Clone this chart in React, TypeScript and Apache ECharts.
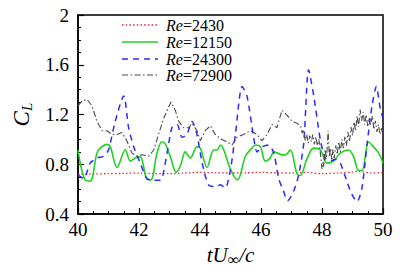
import React, { useEffect, useRef } from "react";
import * as echarts from "echarts";

// Re = 2430 (red dotted)
const tRed = [40, 40.5, 41, 41.5, 42, 42.5, 43, 43.5, 44, 44.5, 45, 45.5, 46, 46.5, 47, 47.5, 48, 48.5, 49, 49.2, 49.6, 50];
const vRed = [0.72, 0.722, 0.725, 0.727, 0.73, 0.726, 0.725, 0.73, 0.735, 0.732, 0.73, 0.732, 0.735, 0.732, 0.73, 0.735, 0.725, 0.73, 0.738, 0.745, 0.73, 0.735];

// Re = 12150 (green solid)
const tGreen = [40, 40.24, 40.4, 40.62, 40.73, 40.95, 41.06, 41.28, 41.55, 41.72, 41.88, 42.04, 42.26, 42.39, 42.59, 42.75, 42.86, 43.03, 43.22, 43.36, 43.52, 43.68, 43.9, 44.01, 44.23, 44.45, 44.56, 44.67, 44.78, 45.0, 45.23, 45.49, 45.7, 45.82, 45.98, 46.14, 46.3, 46.42, 46.63, 46.8, 46.96, 47.18, 47.29, 47.5, 47.73, 47.95, 48.16, 48.38, 48.6, 48.87, 49.04, 49.2, 49.31, 49.53, 49.69, 49.86, 50];
const vGreen = [0.915, 0.673, 0.665, 0.89, 0.93, 0.96, 0.94, 0.775, 0.915, 0.826, 0.85, 0.86, 0.68, 0.675, 0.89, 0.98, 0.965, 0.86, 0.737, 0.79, 0.9, 0.85, 0.94, 0.93, 0.775, 0.915, 0.915, 0.955, 0.915, 0.76, 0.675, 0.865, 0.93, 0.955, 0.94, 0.826, 0.85, 0.9, 0.88, 0.875, 0.915, 0.724, 0.71, 0.84, 0.93, 0.915, 0.81, 0.826, 0.89, 0.915, 0.86, 0.75, 0.75, 0.98, 0.94, 0.89, 0.81];

// Re = 24300 (blue dashed)
const tBlue = [40, 40.19, 40.4, 40.62, 40.84, 41.0, 41.22, 41.5, 41.66, 41.83, 42.04, 42.26, 42.48, 42.7, 42.92, 43.08, 43.25, 43.41, 43.57, 43.74, 43.9, 44.07, 44.28, 44.5, 44.67, 44.83, 45.0, 45.16, 45.38, 45.54, 45.76, 45.87, 46.03, 46.25, 46.42, 46.58, 46.74, 46.87, 47.07, 47.23, 47.4, 47.56, 47.73, 47.95, 48.11, 48.27, 48.44, 48.6, 48.82, 48.98, 49.15, 49.31, 49.48, 49.64, 49.78, 49.91, 50];
const vBlue = [0.716, 0.686, 0.81, 0.85, 0.865, 0.915, 1.145, 1.35, 1.094, 0.94, 0.81, 0.686, 0.673, 0.673, 0.89, 1.094, 1.12, 1.017, 1.04, 1.145, 1.04, 0.81, 0.635, 0.62, 0.635, 0.61, 0.76, 1.04, 1.425, 1.35, 1.017, 0.9, 0.94, 0.955, 0.89, 0.686, 0.584, 0.507, 0.584, 0.71, 0.966, 1.56, 1.35, 0.99, 0.85, 0.826, 0.84, 0.81, 0.66, 0.558, 0.5, 0.61, 0.966, 1.27, 1.425, 1.247, 1.17];

// Re = 72900 (grey dash-dot)
const tGrey = [40, 40.13, 40.3, 40.46, 40.62, 40.79, 40.95, 41.11, 41.28, 41.44, 41.6, 41.77, 41.93, 42.1, 42.32, 42.48, 42.64, 42.81, 42.97, 43.05, 43.19, 43.3, 43.46, 43.63, 43.74, 43.9, 44.01, 44.17, 44.34, 44.5, 44.67, 44.89, 45.05, 45.21, 45.43, 45.65, 45.87, 46.03, 46.2, 46.36, 46.52, 46.69, 46.85, 47.02, 47.18, 47.3, 47.35, 47.4, 47.45, 47.5, 47.55, 47.6, 47.65, 47.7, 47.75, 47.8, 47.85, 47.9, 47.95, 48.0, 48.03, 48.06, 48.1, 48.15, 48.2, 48.24, 48.28, 48.32, 48.36, 48.4, 48.45, 48.5, 48.55, 48.6, 48.65, 48.7, 48.75, 48.8, 48.85, 48.9, 48.95, 49.0, 49.05, 49.1, 49.15, 49.2, 49.25, 49.3, 49.35, 49.4, 49.45, 49.5, 49.55, 49.6, 49.65, 49.7, 49.75, 49.8, 49.85, 49.9, 49.95, 50];
const vGrey = [1.27, 1.31, 1.32, 1.27, 1.145, 1.07, 1.07, 1.04, 1.04, 1.055, 0.99, 0.89, 0.865, 0.877, 0.865, 0.915, 1.04, 1.17, 1.26, 1.3, 1.235, 1.145, 1.094, 1.094, 1.13, 1.07, 0.99, 1.07, 1.11, 1.04, 1.005, 0.98, 0.955, 1.017, 1.04, 1.07, 1.04, 0.99, 1.04, 1.12, 1.094, 1.235, 1.196, 1.145, 1.13, 1.11, 1.05, 1.08, 0.99, 1.04, 0.97, 1.03, 0.98, 1.04, 0.96, 1.02, 0.95, 1.0, 0.88, 0.76, 0.82, 0.78, 0.92, 0.85, 1.07, 0.86, 0.93, 0.83, 0.92, 0.85, 0.95, 0.88, 0.98, 0.9, 1.0, 0.93, 1.02, 0.95, 1.06, 0.98, 1.1, 1.03, 1.14, 1.07, 1.19, 1.1, 1.24, 1.15, 1.22, 1.12, 1.2, 1.1, 1.17, 1.12, 1.19, 1.08, 1.15, 1.06, 1.12, 1.04, 1.09, 1.03];

const legendNames = ["2430", "12150", "24300", "72900"];
const xTicks = { min: 40, max: 50, interval: 2 };
const yTicks = { min: 0.4, max: 2, interval: 0.4 };

const pairs = (t: number[], v: number[]) => t.map((x, i) => [x, v[i]]);

const FONT = "Liberation Serif";

export default function App() {
  const ref = useRef<HTMLDivElement>(null);
  useEffect(() => {
    if (!ref.current) return;
    const chart = echarts.init(ref.current, null, { renderer: "svg" });
    const colors = ["#e8262a", "#1ed21e", "#2b2bff", "#4a4a4a"];
    const dashes: any[] = [[1.5, 2.2], "solid", [6, 5], [6, 2.5, 1.5, 2.5]];
    const widths = [1.3, 1.6, 1.5, 1.1];
    const legendY = [25, 42, 59, 75];
    const graphic: any[] = [];
    legendNames.forEach((n, i) => {
      graphic.push({
        type: "line",
        shape: { x1: 122, y1: legendY[i], x2: 158, y2: legendY[i] },
        style: { stroke: colors[i], lineWidth: widths[i], lineDash: dashes[i] === "solid" ? null : dashes[i] },
        silent: true,
      });
      graphic.push({
        type: "text",
        x: 166,
        y: legendY[i],
        style: {
          text: "{i|Re}=" + n,
          rich: { i: { fontStyle: "italic", fontFamily: FONT, fontSize: 16, fill: "#000" } },
          fontFamily: FONT,
          fontSize: 16,
          fill: "#000",
          verticalAlign: "middle",
        },
        silent: true,
      });
    });
    const axisLabel = { color: "#000", fontFamily: FONT, fontSize: 19 };
    chart.setOption({
      animation: false,
      textStyle: { fontFamily: FONT },
      grid: { left: 78, right: 24, top: 15, bottom: 48, show: true, borderColor: "#000", borderWidth: 1.5 },
      xAxis: {
        type: "value",
        min: xTicks.min,
        max: xTicks.max,
        interval: xTicks.interval,
        axisLine: { lineStyle: { color: "#000", width: 1.5 } },
        axisTick: { inside: true, length: 6, lineStyle: { color: "#000", width: 1.2 } },
        minorTick: { show: true, splitNumber: 4, length: 3, lineStyle: { color: "#000", width: 1 } },
        splitLine: { show: false },
        axisLabel: { ...axisLabel, margin: 6 },
        name: "{i|tU}{s|∞}{i|/c}",
        nameLocation: "middle",
        nameGap: 12,
        nameTextStyle: {
          color: "#000",
          fontFamily: FONT,
          fontSize: 21,
          rich: {
            i: { fontStyle: "italic", fontFamily: FONT, fontSize: 21, color: "#000" },
            s: { fontFamily: FONT, fontSize: 16, color: "#000", padding: [9, 0, 0, 0] },
          },
        },
      },
      yAxis: {
        type: "value",
        min: yTicks.min,
        max: yTicks.max,
        interval: yTicks.interval,
        axisLine: { show: true, lineStyle: { color: "#000", width: 1.5 } },
        axisTick: { show: true, inside: true, length: 6, lineStyle: { color: "#000", width: 1.2 } },
        minorTick: { show: true, splitNumber: 4, length: 3, lineStyle: { color: "#000", width: 1 } },
        splitLine: { show: false },
        axisLabel: { ...axisLabel, margin: 9, formatter: (v: number) => String(+v.toFixed(1)) },
        name: "{i|C}{s|L}",
        nameLocation: "middle",
        nameRotate: 90,
        nameGap: 42,
        nameTextStyle: {
          color: "#000",
          fontFamily: FONT,
          rich: {
            i: { fontStyle: "italic", fontFamily: FONT, fontSize: 23, color: "#000" },
            s: { fontStyle: "italic", fontFamily: FONT, fontSize: 15, color: "#000", padding: [10, 0, 0, 0] },
          },
        },
      },
      series: [
        { name: "Re=2430", type: "line", data: pairs(tRed, vRed), showSymbol: false, smooth: 0.3, lineStyle: { color: colors[0], width: widths[0], type: dashes[0] }, z: 2 },
        { name: "Re=12150", type: "line", data: pairs(tGreen, vGreen), showSymbol: false, smooth: 0.35, lineStyle: { color: colors[1], width: widths[1], type: "solid" }, z: 3 },
        { name: "Re=24300", type: "line", data: pairs(tBlue, vBlue), showSymbol: false, smooth: 0.25, lineStyle: { color: colors[2], width: widths[2], type: dashes[2] }, z: 4 },
        { name: "Re=72900", type: "line", data: pairs(tGrey, vGrey), showSymbol: false, smooth: false, lineStyle: { color: colors[3], width: widths[3], type: dashes[3] }, z: 5 },
      ],
      graphic,
    });
    return () => chart.dispose();
  }, []);
  return <div ref={ref} style={{ position: "fixed", left: 0, top: 0, width: 407, height: 272, background: "#fff" }} />;
}
